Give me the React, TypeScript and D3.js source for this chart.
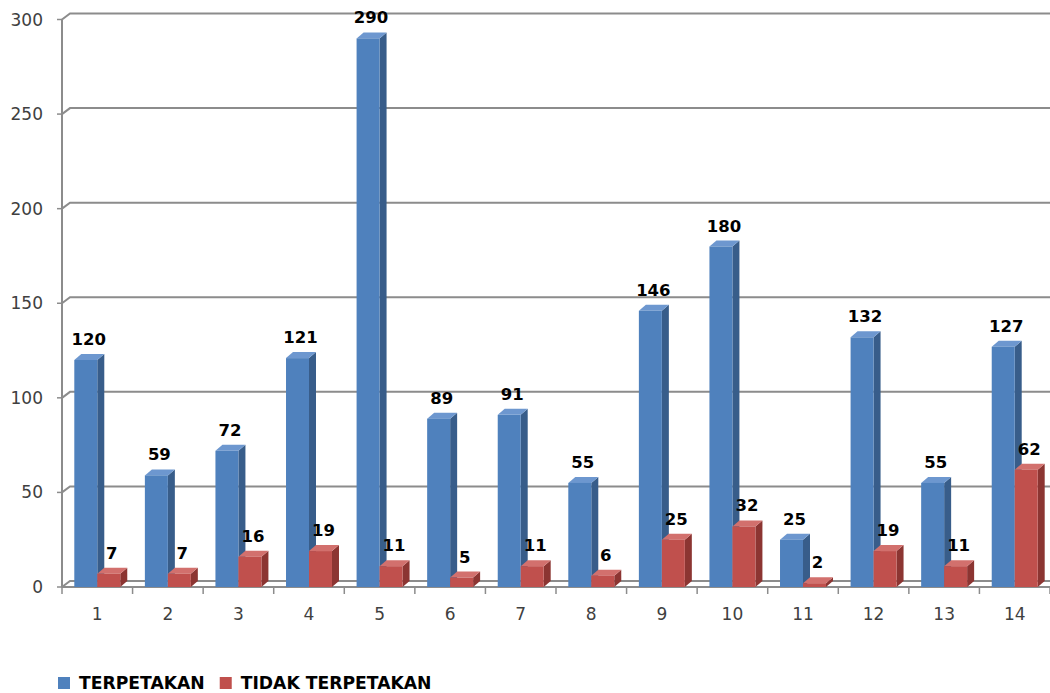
import React, { useRef, useEffect } from 'react';
import * as d3 from 'd3';

const categories = ['1', '2', '3', '4', '5', '6', '7', '8', '9', '10', '11', '12', '13', '14'];
const terpetakan = [120, 59, 72, 121, 290, 89, 91, 55, 146, 180, 25, 132, 55, 127];
const tidakTerpetakan = [7, 7, 16, 19, 11, 5, 11, 6, 25, 32, 2, 19, 11, 62];
const yTicks = [0, 50, 100, 150, 200, 250, 300];

const seriesNames = ['TERPETAKAN', 'TIDAK TERPETAKAN'];
const seriesColors = [
    { front: '#4f81bd', side: '#385d8a', top: '#6d97cf' },
    { front: '#c0504d', side: '#8c3532', top: '#d2706d' },
];

const width = 1050;
const height = 693;

const App: React.FC = () => {
    const svgRef = useRef<SVGSVGElement>(null);

    useEffect(() => {
        if (!svgRef.current) return;
        const svg = d3.select(svgRef.current);
        svg.selectAll('*').remove();

        const left = 62;
        const right = 1050;
        const floorY = 587;
        const dx = 8;
        const dy = 6;
        const bdx = 7;
        const bdy = 6;

        const x0 = d3.scaleBand<string>().domain(categories).range([left, right]);
        const x1 = d3.scaleBand<number>()
            .domain([0, 1])
            .range([12.3, x0.bandwidth() - 12.3]);
        const y = d3.scaleLinear().domain([0, 300]).range([floorY, 19.5]);

        const gridColor = '#8c8c8c';

        // gridlines on the back wall, with the short side-wall slope
        const grid = svg.append('g');
        yTicks.forEach(t => {
            const yy = y(t);
            grid.append('path')
                .attr('d', `M${left},${yy} L${left + dx},${yy - dy} L${right},${yy - dy}`)
                .attr('fill', 'none')
                .attr('stroke', gridColor)
                .attr('stroke-width', 2);
            grid.append('line')
                .attr('x1', left - 5).attr('x2', left)
                .attr('y1', yy).attr('y2', yy)
                .attr('stroke', gridColor).attr('stroke-width', 1.5);
            grid.append('text')
                .attr('x', left - 19)
                .attr('y', yy + 6)
                .attr('text-anchor', 'end')
                .attr('font-family', 'DejaVu Sans, sans-serif')
                .attr('font-size', 17)
                .attr('fill', '#404040')
                .text(t);
        });

        // vertical axis and floor front edge
        svg.append('line')
            .attr('x1', left).attr('x2', left)
            .attr('y1', y(300)).attr('y2', floorY)
            .attr('stroke', gridColor).attr('stroke-width', 2);
        svg.append('line')
            .attr('x1', left).attr('x2', right)
            .attr('y1', floorY).attr('y2', floorY)
            .attr('stroke', gridColor).attr('stroke-width', 2);

        // category ticks and labels
        const bounds = categories.map(c => x0(c) as number);
        bounds.push(right);
        svg.append('g').selectAll('line')
            .data(bounds)
            .join('line')
            .attr('x1', d => d).attr('x2', d => d)
            .attr('y1', floorY).attr('y2', floorY + 7)
            .attr('stroke', gridColor).attr('stroke-width', 1.5);
        svg.append('g').selectAll('text')
            .data(categories)
            .join('text')
            .attr('x', d => (x0(d) as number) + x0.bandwidth() / 2)
            .attr('y', floorY + 33)
            .attr('text-anchor', 'middle')
            .attr('font-family', 'DejaVu Sans, sans-serif')
            .attr('font-size', 17)
            .attr('fill', '#404040')
            .text(d => d);

        // 3D bars
        const series = [terpetakan, tidakTerpetakan];
        const bw = x1.bandwidth();
        const bars = svg.append('g');
        const labels = svg.append('g');
        categories.forEach((c, i) => {
            series.forEach((vals, s) => {
                const v = vals[i];
                const xa = (x0(c) as number) + (x1(s) as number);
                const xb = xa + bw;
                const yt = y(v);
                const col = seriesColors[s];
                const g = bars.append('g');
                g.append('polygon')
                    .attr('points', `${xb},${yt} ${xb + bdx},${yt - bdy} ${xb + bdx},${floorY - bdy} ${xb},${floorY}`)
                    .attr('fill', col.side);
                g.append('polygon')
                    .attr('points', `${xa},${yt} ${xa + bdx},${yt - bdy} ${xb + bdx},${yt - bdy} ${xb},${yt}`)
                    .attr('fill', col.top);
                g.append('rect')
                    .attr('x', xa)
                    .attr('y', yt)
                    .attr('width', bw)
                    .attr('height', floorY - yt)
                    .attr('fill', col.front);
                labels.append('text')
                    .attr('x', xa + bw / 2 + 3)
                    .attr('y', yt - 15)
                    .attr('text-anchor', 'middle')
                    .attr('font-family', 'DejaVu Sans, sans-serif')
                    .attr('font-weight', 'bold')
                    .attr('font-size', 16.5)
                    .attr('fill', '#000')
                    .text(v);
            });
        });

        // legend
        const legend = svg.append('g');
        let lx = 58;
        seriesNames.forEach((name, s) => {
            legend.append('rect')
                .attr('x', lx).attr('y', 677)
                .attr('width', 12).attr('height', 12)
                .attr('fill', seriesColors[s].front);
            const t = legend.append('text')
                .attr('x', lx + 21)
                .attr('y', 689)
                .attr('font-family', 'DejaVu Sans, sans-serif')
                .attr('font-weight', 'bold')
                .attr('font-size', 17.2)
                .attr('fill', '#000')
                .text(name);
            const node = t.node() as SVGTextElement;
            lx += 21 + node.getComputedTextLength() + 15;
        });
    }, []);

    return (
        <svg
            ref={svgRef}
            width={width}
            height={height}
            viewBox={`0 0 ${width} ${height}`}
            style={{ display: 'block', position: 'absolute', left: 0, top: 0, background: '#fff' }}
        />
    );
};

export default App;
